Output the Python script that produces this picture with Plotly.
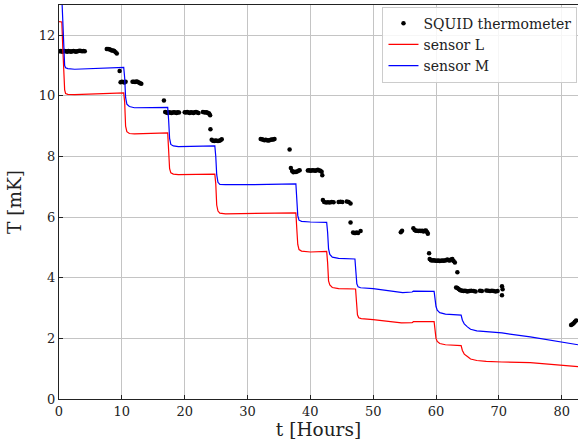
import plotly.graph_objects as go

# ---- sensor L (red) ----
l_t = [0, 0.45, 0.6, 0.75, 0.9, 1.05, 1.4, 2.5, 6, 10.3, 10.45, 10.6, 10.8, 11.2, 12, 17.3,
       17.45, 17.6, 17.8, 18.2, 19, 24.8, 24.95, 25.1, 25.3, 25.6, 26.5, 37.7, 37.85, 38.0,
       38.2, 38.6, 40, 42.6, 42.75, 42.9, 43.1, 43.5, 44.5, 47.2, 47.35, 47.5, 47.7, 48.1,
       50, 54.5, 56.2, 56.4, 59.7, 59.85, 60.0, 60.2, 60.6, 61.5, 63.9, 64.0, 64.2, 64.5,
       65.0, 65.5, 66.5, 68, 70.5, 75, 82.6]
l_T = [12.45, 12.44, 11.6, 10.6, 10.2, 10.08, 10.05, 10.04, 10.06, 10.1, 9.8, 9.0, 8.82,
       8.76, 8.75, 8.78, 8.2, 7.6, 7.46, 7.42, 7.4, 7.42, 7.1, 6.4, 6.2, 6.13, 6.11, 6.14,
       5.6, 5.1, 4.93, 4.88, 4.85, 4.87, 4.5, 3.9, 3.76, 3.68, 3.64, 3.63, 3.2, 2.78, 2.68,
       2.65, 2.62, 2.51, 2.52, 2.55, 2.55, 2.3, 2.0, 1.9, 1.83, 1.79, 1.77, 1.76, 1.6, 1.48,
       1.4, 1.32, 1.27, 1.24, 1.22, 1.2, 1.07, 0.86]

# ---- sensor M (blue) ----
m_t = [0.3, 0.45, 0.6, 0.75, 0.9, 1.05, 1.4, 2.5, 6, 10.3, 10.45, 10.6, 10.8, 11.2, 12,
       17.3, 17.45, 17.6, 17.8, 18.2, 19, 24.8, 24.95, 25.1, 25.3, 25.6, 26.5, 31, 37.7,
       37.85, 38.0, 38.2, 38.6, 40, 42.6, 42.75, 42.9, 43.1, 43.5, 44.5, 47.1, 47.25, 47.4,
       47.6, 48.0, 50, 54.7, 56.2, 56.4, 59.7, 59.85, 60.0, 60.2, 60.6, 61.5, 63.9, 64.0,
       64.2, 64.5, 65.0, 65.5, 66.5, 68, 70.5, 75, 82.6]
m_T = [14.0, 13.2, 12.2, 11.4, 11.0, 10.93, 10.9, 10.88, 10.9, 10.94, 10.6, 9.95, 9.73,
       9.65, 9.61, 9.62, 9.2, 8.6, 8.4, 8.35, 8.33, 8.35, 8.0, 7.4, 7.15, 7.08, 7.07, 7.07,
       7.1, 6.6, 6.05, 5.9, 5.86, 5.84, 5.83, 5.5, 4.95, 4.77, 4.68, 4.64, 4.62, 4.2, 3.8,
       3.7, 3.67, 3.64, 3.51, 3.53, 3.56, 3.55, 3.3, 3.05, 2.93, 2.85, 2.8, 2.78, 2.77, 2.6,
       2.48, 2.38, 2.3, 2.25, 2.22, 2.18, 2.05, 1.79]

# ---- SQUID thermometer (black dots) ----
s_t = [0.1, 0.3, 0.5, 0.7, 0.9, 1.1, 1.3, 1.5, 1.7, 1.9, 2.1, 2.3, 2.5, 2.7, 2.9, 3.1, 3.3,
       3.5, 3.7, 3.9, 4.1,
       7.6, 7.8, 8.0, 8.2, 8.4, 8.6, 8.8, 9.0, 9.2,
       9.65,
       9.8, 10.0, 10.2, 10.4, 10.6,
       11.7, 11.9, 12.1, 12.3, 12.5, 12.7, 12.9, 13.1,
       16.7,
       16.9, 17.1, 17.3, 17.5, 17.7, 17.9, 18.1, 18.3, 18.5, 18.7, 18.9, 19.1,
       20.0, 20.2, 20.4, 20.6, 20.8, 21.0, 21.2, 21.4, 21.6, 21.8, 22.0, 22.2,
       22.9, 23.1, 23.3, 23.5, 23.7, 23.9, 24.05,
       24.1,
       24.3, 24.5, 24.7, 24.9, 25.1, 25.3, 25.5, 25.7, 25.9,
       32.1, 32.3, 32.5, 32.7, 32.9, 33.1, 33.3, 33.5, 33.7, 33.9, 34.1, 34.3,
       36.7,
       36.9, 37.1, 37.3, 37.5, 37.7, 37.9, 38.1, 38.3,
       39.6, 39.8, 40.0, 40.2, 40.4, 40.6, 40.8, 41.0, 41.2, 41.4, 41.6, 41.8, 41.9,
       42.0, 42.2, 42.5, 42.8, 43.1, 43.4, 43.7, 44.5, 44.8, 45.1, 45.8, 46.1, 46.4,
       46.4,
       46.8, 47.0, 47.2, 47.4, 47.6, 48.0,
       54.4, 54.6,
       56.4, 56.6, 56.8, 57.0, 57.2, 57.4, 57.6, 57.8, 58.0, 58.2, 58.4, 58.6, 58.7,
       58.9,
       59.0, 59.2, 59.4, 59.6, 59.8, 60.0, 60.2, 60.4, 60.6, 60.8, 61.0, 61.2, 61.4, 61.6,
       61.8, 62.0, 62.2, 62.4, 62.6, 62.8, 63.0,
       63.4,
       63.2, 63.4, 63.6, 63.8, 64.0, 64.2, 64.4, 64.6, 64.8, 65.0, 65.3, 65.6, 66.0, 66.3,
       67.0, 67.3, 68.0, 68.3, 68.6, 68.9, 69.2, 69.5, 69.8,
       70.5, 70.6, 70.5,
       81.5, 81.7, 81.9, 82.1, 82.3]
s_T = [11.47, 11.48, 11.46, 11.47, 11.48, 11.47, 11.46, 11.48, 11.47, 11.46, 11.47, 11.48,
       11.47, 11.46, 11.47, 11.48, 11.49, 11.48, 11.47, 11.48, 11.47,
       11.55, 11.55, 11.54, 11.52, 11.5, 11.5, 11.48, 11.44, 11.4,
       10.82,
       10.45, 10.47, 10.46, 10.44, 10.47,
       10.47, 10.47, 10.46, 10.48, 10.47, 10.44, 10.42, 10.4,
       9.85,
       9.47, 9.45, 9.44, 9.46, 9.45, 9.44, 9.45, 9.46, 9.45, 9.44, 9.46, 9.45,
       9.46, 9.45, 9.47, 9.45, 9.44, 9.46, 9.45, 9.44, 9.46, 9.47, 9.45, 9.44,
       9.47, 9.46, 9.45, 9.46, 9.44, 9.42, 9.36,
       8.9,
       8.55, 8.52, 8.51, 8.53, 8.52, 8.51, 8.52, 8.54, 8.57,
       8.58, 8.57, 8.55, 8.54, 8.55, 8.54, 8.53, 8.54, 8.55, 8.56, 8.56, 8.58,
       8.23,
       7.62, 7.52, 7.48, 7.5, 7.49, 7.51, 7.53, 7.55,
       7.54, 7.55, 7.53, 7.54, 7.55, 7.54, 7.53, 7.55, 7.56, 7.54, 7.53, 7.5, 7.38,
       6.57, 6.5, 6.48, 6.49, 6.48, 6.5, 6.49, 6.5, 6.51, 6.5, 6.52, 6.5, 6.45,
       5.82,
       5.49, 5.48, 5.48, 5.49, 5.48, 5.54,
       5.5, 5.55,
       5.63, 5.58, 5.55, 5.55, 5.54, 5.55, 5.54, 5.55, 5.53, 5.55, 5.56, 5.5, 5.45,
       4.81,
       4.62, 4.58, 4.57, 4.58, 4.57, 4.56, 4.56, 4.57, 4.55, 4.56, 4.57, 4.56, 4.57, 4.58,
       4.6, 4.58, 4.57, 4.6, 4.62, 4.55, 4.5,
       4.18,
       3.68, 3.66, 3.63, 3.6, 3.58, 3.57, 3.56, 3.57, 3.56, 3.55, 3.56, 3.57, 3.56, 3.55,
       3.57, 3.56, 3.58, 3.57, 3.56, 3.57, 3.56, 3.55, 3.56,
       3.72, 3.62, 3.42,
       2.44, 2.47, 2.5, 2.55, 2.59]

FONT = "DejaVu Serif, Liberation Serif, serif"

fig = go.Figure()
fig.add_trace(go.Scatter(x=s_t, y=s_T, mode="markers", name="SQUID thermometer",
                         marker=dict(color="black", size=4.5, line=dict(width=0))))
fig.add_trace(go.Scatter(x=l_t, y=l_T, mode="lines", name="sensor L",
                         line=dict(color="#ff0000", width=1.2)))
fig.add_trace(go.Scatter(x=m_t, y=m_T, mode="lines", name="sensor M",
                         line=dict(color="#0000ff", width=1.2)))

fig.update_layout(
    width=578, height=443,
    margin=dict(l=59, r=0, t=5, b=44),
    paper_bgcolor="white", plot_bgcolor="white",
    font=dict(family=FONT, size=13, color="#222"),
    legend=dict(x=0.999, y=0.996, xanchor="right", yanchor="top",
                bgcolor="rgba(255,255,255,0.85)", bordercolor="#cccccc", borderwidth=1,
                font=dict(family=FONT, size=14, color="#222"),
                tracegroupgap=0, itemwidth=30),
    xaxis=dict(range=[0, 82.6], tickvals=[0, 10, 20, 30, 40, 50, 60, 70, 80],
               showgrid=True, gridcolor="#c4c4c4", gridwidth=1,
               showline=True, linecolor="#222", linewidth=1.3, mirror=True,
               ticks="inside", ticklen=4, tickcolor="#222",
               zeroline=False, tickfont=dict(family=FONT, size=13),
               title=dict(text="t [Hours]", font=dict(family=FONT, size=18.5), standoff=4)),
    yaxis=dict(range=[0, 13], tickvals=[0, 2, 4, 6, 8, 10, 12],
               showgrid=True, gridcolor="#c4c4c4", gridwidth=1,
               showline=True, linecolor="#222", linewidth=1.3,
               ticks="inside", ticklen=4, tickcolor="#222",
               zeroline=False, tickfont=dict(family=FONT, size=13),
               title=dict(text="T [mK]", font=dict(family=FONT, size=18.5), standoff=12)),
)

fig.write_html("out.html")
